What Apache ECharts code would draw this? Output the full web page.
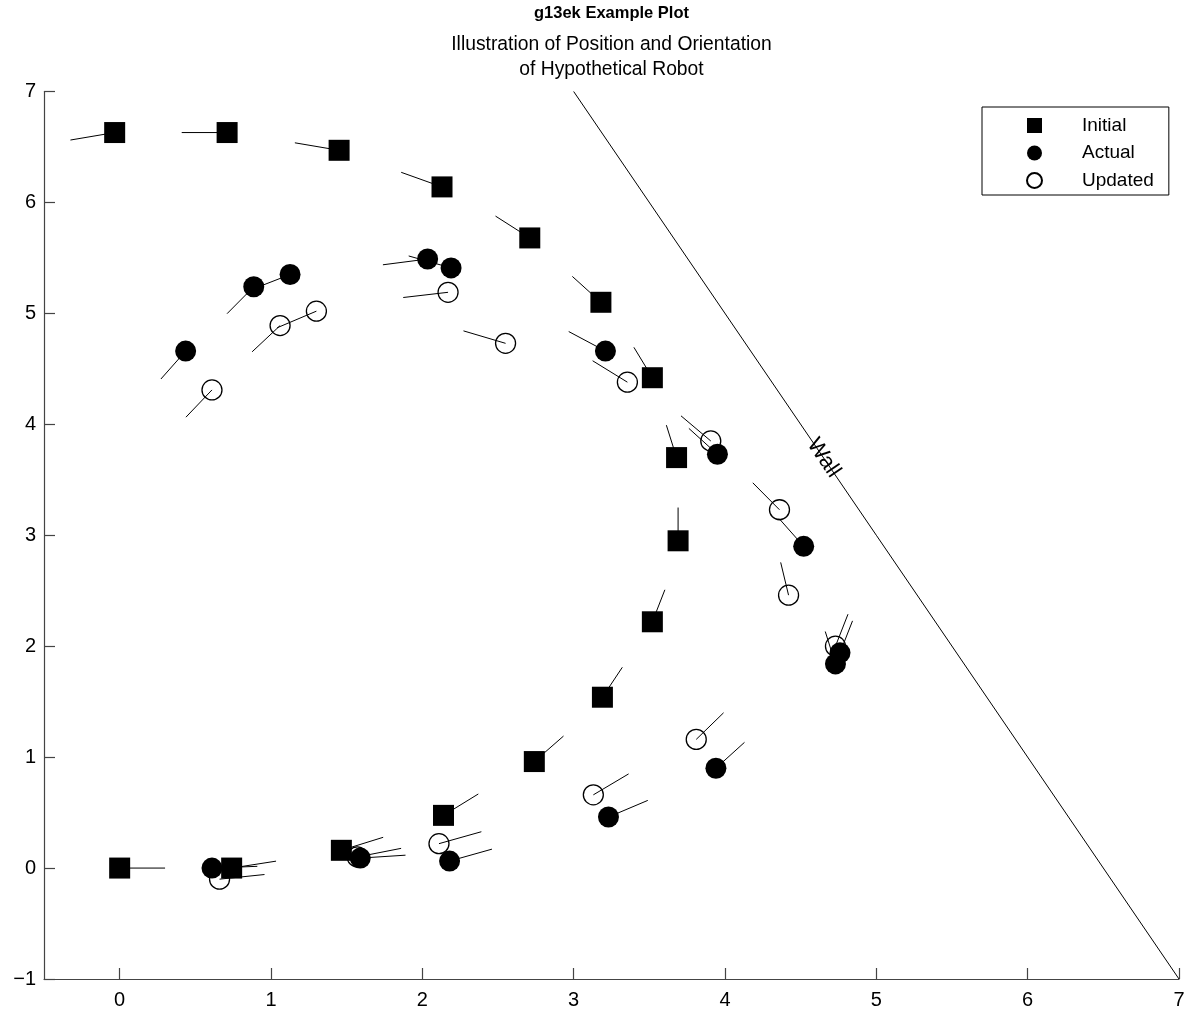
<!DOCTYPE html>
<html><head><meta charset="utf-8">
<script src="https://cdn.jsdelivr.net/npm/echarts@6/dist/echarts.min.js"></script>
<style>html,body{margin:0;padding:0;background:#fff}#c{width:1196px;height:1016px}</style>
</head><body><div id="c"></div><script>
// ---- data ----
const initialX = [0, 0.74, 1.465, 2.14, 2.74, 3.19, 3.52, 3.69, 3.68, 3.52, 3.18, 2.71, 2.13, 1.45, 0.71, -0.033];
const initialY = [0, 0, 0.16, 0.475, 0.96, 1.54, 2.22, 2.95, 3.70, 4.42, 5.10, 5.68, 6.14, 6.47, 6.63, 6.63];
const initialAngle = [0, 12, 23, 40, 50, 64, 74, 90, 103, 114, 129, 139, 154, 167, 180, 193];

const actualX = [0.61, 1.59, 2.18, 3.23, 3.94, 4.76, 4.73, 4.52, 3.95, 3.21, 2.19, 2.035, 1.126, 0.886, 0.436];
const actualY = [0, 0.09, 0.063, 0.46, 0.90, 1.94, 1.84, 2.90, 3.73, 4.66, 5.41, 5.49, 5.35, 5.24, 4.66];
const actualAngle = [3, 5, 21, 30, 51, 74, 103, 123, 129, 144, 159, 190, 208, 234, 237];

const updatedX = [0.66, 1.57, 2.11, 3.13, 3.81, 4.73, 4.42, 4.36, 3.906, 3.355, 2.55, 2.17, 1.30, 1.06, 0.61];
const updatedY = [-0.1, 0.10, 0.22, 0.66, 1.16, 2.00, 2.46, 3.23, 3.85, 4.38, 4.73, 5.19, 5.02, 4.89, 4.31];
const updatedAngle = [8, 15, 21, 39, 53, 74, 100, 126, 131, 140, 158, 189, 210, 232, 235];

const headingLength = 0.3;           // length of orientation strokes (data units)
const wallX = [3, 7];
const wallY = [7, -1];
const wallText = 'Wall';
const wallTextFrac = 0.413;          // where along the wall the label sits
const xTickValues = [0, 1, 2, 3, 4, 5, 6, 7];
const seriesNames = ['Initial', 'Actual', 'Updated'];
const titleText = 'g13ek Example Plot';
const subtitleLines = ['Illustration of Position and Orientation', 'of Hypothetical Robot'];

// ---- chart ----
const FONT = '"Liberation Sans", Arial, Helvetica, sans-serif';
const pts = (xs, ys, as) => xs.map((x, i) => [x, ys[i], as[i]]);

function headingSeries(name, data) {
  return {
    type: 'custom', name: name, silent: true, z: 1, clip: false,
    data: data, encode: { x: 0, y: 1 },
    renderItem: function (params, api) {
      const x = api.value(0), y = api.value(1), a = api.value(2) * Math.PI / 180;
      const p0 = api.coord([x, y]);
      const p1 = api.coord([x + headingLength * Math.cos(a), y + headingLength * Math.sin(a)]);
      return { type: 'line', shape: { x1: p0[0], y1: p0[1], x2: p1[0], y2: p1[1] },
               style: { stroke: '#000', lineWidth: 1 } };
    }
  };
}

const TITLE_CX = 611.5;
const chart = echarts.init(document.getElementById('c'), null, { renderer: 'canvas' });
chart.setOption({
  animation: false,
  backgroundColor: '#fff',
  textStyle: { fontFamily: FONT },
  graphic: [
    { type: 'text', x: TITLE_CX, y: 13, silent: true,
      style: { text: titleText, fontSize: 16.5, fontWeight: 'bold', fontFamily: FONT, fill: '#000', align: 'center', verticalAlign: 'middle' } },
    { type: 'text', x: TITLE_CX, y: 45, silent: true,
      style: { text: subtitleLines[0], fontSize: 19.3, fontFamily: FONT, fill: '#000', align: 'center', verticalAlign: 'middle' } },
    { type: 'text', x: TITLE_CX, y: 70, silent: true,
      style: { text: subtitleLines[1], fontSize: 19.3, fontFamily: FONT, fill: '#000', align: 'center', verticalAlign: 'middle' } }
  ],
  legend: {
    data: seriesNames, orient: 'vertical', left: 982, top: 107,
    padding: [9, 15, 5, 44], itemWidth: 15, itemHeight: 15, itemGap: 8.5,
    borderColor: '#000', borderWidth: 1, selectedMode: false,
    textStyle: { fontSize: 19, color: '#000', fontFamily: FONT, padding: [0, 0, 0, 35] }
  },
  grid: { left: 44, right: 17, top: 91.5, bottom: 37 },
  xAxis: {
    type: 'value', min: -0.5, max: 7,
    axisLine: { onZero: false, lineStyle: { color: '#444', width: 1.2 } },
    axisTick: { inside: true, length: 11, customValues: xTickValues, lineStyle: { color: '#444', width: 1.2 } },
    axisLabel: { customValues: xTickValues, fontSize: 20, color: '#000', margin: 11, fontFamily: FONT },
    splitLine: { show: false }
  },
  yAxis: {
    type: 'value', min: -1, max: 7, interval: 1,
    axisLine: { show: true, onZero: false, lineStyle: { color: '#444', width: 1.2 } },
    axisTick: { show: true, inside: true, length: 11, lineStyle: { color: '#444', width: 1.2 } },
    axisLabel: { fontSize: 20, color: '#000', margin: 8, fontFamily: FONT,
                 formatter: v => v < 0 ? '\u2212' + (-v) : String(v) },
    splitLine: { show: false }
  },
  series: [
    {
      type: 'custom', name: 'wall', silent: true, z: 1, clip: false,
      data: [[wallX[0], wallY[0], wallX[1], wallY[1]]],
      encode: { x: [0, 2], y: [1, 3] },
      renderItem: function (params, api) {
        const x0 = api.value(0), y0 = api.value(1), x1 = api.value(2), y1 = api.value(3);
        const p0 = api.coord([x0, y0]), p1 = api.coord([x1, y1]);
        const pt = api.coord([x0 + (x1 - x0) * wallTextFrac, y0 + (y1 - y0) * wallTextFrac]);
        const rot = -Math.atan2(p1[1] - p0[1], p1[0] - p0[0]);
        return { type: 'group', children: [
          { type: 'line', shape: { x1: p0[0], y1: p0[1], x2: p1[0], y2: p1[1] }, style: { stroke: '#000', lineWidth: 1 } },
          { type: 'text', x: pt[0], y: pt[1], rotation: rot,
            style: { text: wallText, fontSize: 22, fontFamily: FONT, fill: '#000', align: 'center', verticalAlign: 'middle' } }
        ] };
      }
    },
    headingSeries('Initial heading', pts(initialX, initialY, initialAngle)),
    headingSeries('Actual heading', pts(actualX, actualY, actualAngle)),
    headingSeries('Updated heading', pts(updatedX, updatedY, updatedAngle)),
    { type: 'scatter', name: 'Initial', symbol: 'rect', symbolSize: 21, z: 3,
      itemStyle: { color: '#000', opacity: 1 }, emphasis: { disabled: true },
      data: pts(initialX, initialY, initialAngle), encode: { x: 0, y: 1 } },
    { type: 'scatter', name: 'Actual', symbol: 'circle', symbolSize: 21, z: 3,
      itemStyle: { color: '#000', opacity: 1 }, emphasis: { disabled: true },
      data: pts(actualX, actualY, actualAngle), encode: { x: 0, y: 1 } },
    { type: 'scatter', name: 'Updated', symbol: 'circle', symbolSize: 20, z: 3,
      itemStyle: { color: 'rgba(255,255,255,0)', borderColor: '#000', borderWidth: 1.3, opacity: 1 }, emphasis: { disabled: true },
      data: pts(updatedX, updatedY, updatedAngle), encode: { x: 0, y: 1 } }
  ]
});
</script></body></html>
